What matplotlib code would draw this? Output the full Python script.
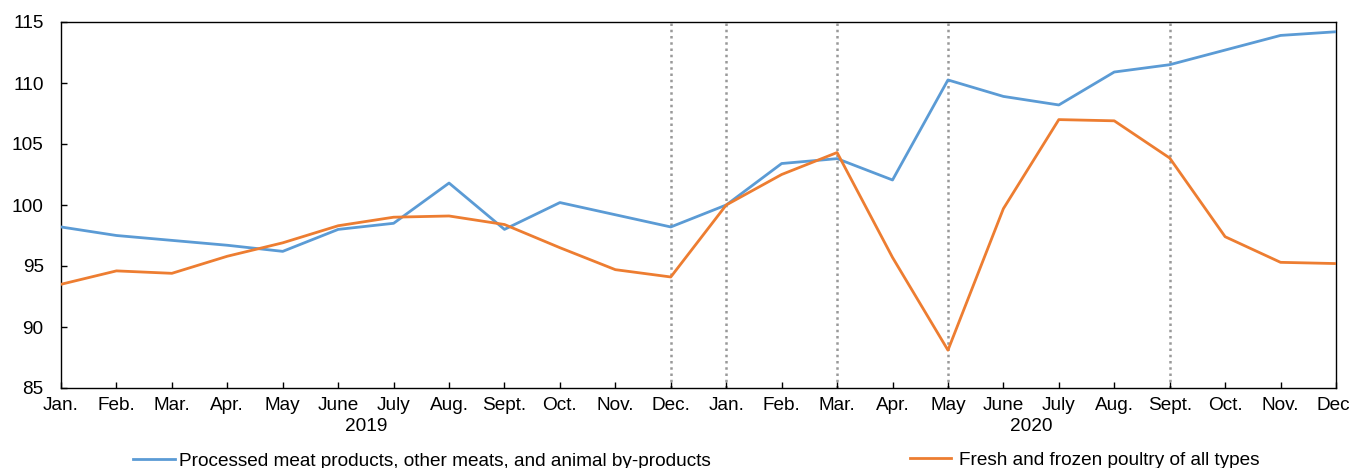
import matplotlib
matplotlib.use("Agg")
import matplotlib.pyplot as plt
from matplotlib.lines import Line2D

plt.rcParams['font.family'] = ['Liberation Sans', 'DejaVu Sans']

months = ["Jan.", "Feb.", "Mar.", "Apr.", "May", "June", "July", "Aug.", "Sept.", "Oct.", "Nov.", "Dec."]
tick_labels = months + months
years = ["2019", "2020"]

processed = [98.2, 97.5, 97.1, 96.7, 96.2, 98.0, 98.5, 101.8, 98.0, 100.2, 99.2, 98.2,
             100.0, 103.4, 103.8, 102.05, 110.25, 108.9, 108.2, 110.9, 111.5, 112.7, 113.9, 114.2]
poultry = [93.5, 94.6, 94.4, 95.8, 96.9, 98.3, 99.0, 99.1, 98.4, 96.5, 94.7, 94.1,
           100.0, 102.5, 104.3, 95.7, 88.1, 99.7, 107.0, 106.9, 103.85, 97.4, 95.3, 95.2]
vlines_idx = [11, 12, 14, 16, 20]

blue = "#5B9BD5"
orange = "#ED7D31"
FS = 13.7

fig = plt.figure(figsize=(13.49, 4.68), dpi=100)
ax = fig.add_axes([61/1349, 1-388/468, (1336-61)/1349, (388-22)/468])

x = list(range(len(tick_labels)))
for v in vlines_idx:
    ax.axvline(v, color="#999999", linestyle=(0, (1.0, 1.5)), linewidth=1.8, zorder=1)
ax.plot(x, processed, color=blue, linewidth=2.0, zorder=3)
ax.plot(x, poultry, color=orange, linewidth=2.0, zorder=3)

ax.set_xlim(0, 23)
ax.set_ylim(85, 115)
ax.set_yticks(range(85, 116, 5))
ax.set_xticks(x)
ax.set_xticklabels(tick_labels)
ax.tick_params(axis='both', labelsize=FS, direction='in', length=4, width=1, colors='black')
ax.tick_params(axis='x', pad=6.5)
ax.tick_params(axis='y', pad=12.5)
for s in ax.spines.values():
    s.set_linewidth(1.0)
    s.set_color('black')

for i, yr in enumerate(years):
    ax.text(5.5 + 12*i, -0.083, yr, transform=ax.get_xaxis_transform(), ha='center', va='top', fontsize=FS)

h1 = Line2D([], [], color=blue, linewidth=2.0)
h2 = Line2D([], [], color=orange, linewidth=2.0)
fig.legend([h1], ["Processed meat products, other meats, and animal by-products"],
           loc='center left', bbox_to_anchor=(133/1349, 1-461/468), frameon=False,
           fontsize=FS, handlelength=2.2, handletextpad=0.2, borderaxespad=0, borderpad=0)
fig.legend([h2], ["Fresh and frozen poultry of all types"],
           loc='center left', bbox_to_anchor=(910/1349, 1-460/468), frameon=False,
           fontsize=FS, handlelength=2.15, handletextpad=0.4, borderaxespad=0, borderpad=0)

fig.savefig("out.png", dpi=100)
